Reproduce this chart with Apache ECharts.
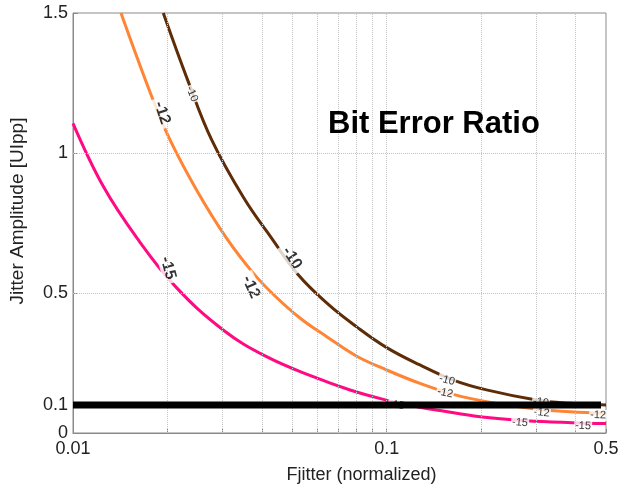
<!DOCTYPE html>
<html><head><meta charset="utf-8">
<script src="https://cdn.jsdelivr.net/npm/echarts@6/dist/echarts.min.js"></script>
<style>html,body{margin:0;padding:0;background:#fff}#c{width:620px;height:485px}</style>
</head><body><div id="c"></div>
<script>
// ---- data ----
const xTickLabels = [0.01, 0.1, 0.5];
const xMinorTicks = [0.02, 0.03, 0.04, 0.05, 0.06, 0.07, 0.08, 0.09, 0.2, 0.3, 0.4];
const xGridValues = [0.02, 0.03, 0.04, 0.05, 0.06, 0.07, 0.08, 0.09, 0.1, 0.2, 0.3, 0.4];
const yTickLabels = [0, 0.1, 0.5, 1, 1.5];
const yGridValues = [0.5, 1];

const ber10X = [0.0194, 0.0233, 0.0277, 0.035, 0.043, 0.0523, 0.065, 0.08, 0.1, 0.1276, 0.163, 0.208, 0.30, 0.384, 0.5];
const ber10Y = [1.5, 1.255, 1.046, 0.84, 0.695, 0.564, 0.46, 0.38, 0.305, 0.243, 0.189, 0.154, 0.118, 0.106, 0.1];

const ber12X = [0.01422, 0.018, 0.0204, 0.025, 0.0309, 0.0376, 0.0437, 0.053, 0.0644, 0.08, 0.1, 0.1276, 0.163, 0.208, 0.30, 0.384, 0.5];
const ber12Y = [1.5, 1.189, 1.046, 0.86, 0.695, 0.570, 0.493, 0.41, 0.344, 0.275, 0.225, 0.177, 0.138, 0.112, 0.085, 0.076, 0.070];

const ber15X = [0.01, 0.0125, 0.016, 0.0213, 0.0301, 0.0414, 0.0583, 0.0764, 0.0976, 0.1276, 0.148, 0.1984, 0.279, 0.39, 0.5];
const ber15Y = [1.106, 0.88, 0.696, 0.521, 0.368, 0.2725, 0.201, 0.1536, 0.120, 0.092, 0.080, 0.058, 0.044, 0.037, 0.034];

const thresholdY = 0.1;
const thresholdX = [0.01, 0.482];

// contour labels: x, y, text
const labelX = [0.02395, 0.0499, 0.1557, 0.310, 0.01922, 0.0369, 0.1535, 0.312, 0.4718, 0.02008, 0.1076, 0.266, 0.4225];
const labelY = [1.211, 0.625, 0.189, 0.11, 1.143, 0.521, 0.143, 0.0725, 0.064, 0.589, 0.10, 0.037, 0.025];
const labelText = ['-10', '-10', '-10', '-10', '-12', '-12', '-12', '-12', '-12', '-15', '-15', '-15', '-15'];

// ---- styles ----
const labelRotate = [-68, -57, -15, -8, -72, -66, -12, -5, -2, -75, -10, -5, -3];
const labelBig = [false, true, false, false, true, true, false, false, false, true, false, false, false];
const FONT = 'Liberation Sans, Arial, sans-serif';
const colBrown = '#5e2d08', colOrange = '#ff8433', colMagenta = '#ff0a82';
const frameCol = '#8a8a8a';

function zip(xs, ys) { return xs.map((x, i) => [x, ys[i]]); }
function fmt(v) { return String(parseFloat(Number(v).toPrecision(6))); }

const chart = echarts.init(document.getElementById('c'), null, {renderer: 'canvas'});

const curveSeries = (name, xs, ys, color) => ({
  name, type: 'line', data: zip(xs, ys), smooth: 0.4, symbol: 'none', z: 3,
  lineStyle: {color, width: 3}, silent: true
});

const labelData = labelX.map((x, i) => ({
  value: [x, labelY[i]],
  label: {
    show: true, position: 'inside', formatter: labelText[i], rotate: labelRotate[i],
    fontSize: labelBig[i] ? 16 : 11, fontWeight: labelBig[i] ? 'bold' : 'normal',
    fontFamily: FONT, color: '#000', backgroundColor: '#fff', padding: labelBig[i] ? [0, 4] : [0, 1]
  }
}));

chart.setOption({
  animation: false,
  grid: {left: 73, right: 14, top: 13, bottom: 52, show: true, borderColor: frameCol, borderWidth: 1,
         containLabel: false, outerBoundsMode: 'none'},
  xAxis: {
    type: 'log', logBase: 10, min: 0.01, max: 0.5,
    axisLine: {show: true, lineStyle: {color: frameCol, width: 1}},
    axisTick: {show: true, inside: true, length: 4, customValues: xMinorTicks.concat(xTickLabels), lineStyle: {color: frameCol}},
    axisLabel: {customValues: xTickLabels, formatter: fmt, fontSize: 18, color: '#222', fontFamily: FONT, margin: 7},
    splitLine: {show: false}, minorTick: {show: false}, minorSplitLine: {show: false},
    name: 'Fjitter (normalized)', nameLocation: 'middle', nameGap: 33,
    nameTextStyle: {fontSize: 18, color: '#222', fontFamily: FONT, padding: [0, 0, 0, 44]}
  },
  yAxis: {
    type: 'value', min: 0, max: 1.5,
    axisLine: {show: true, lineStyle: {color: frameCol, width: 1}},
    axisTick: {show: true, inside: true, length: 5, customValues: yTickLabels, lineStyle: {color: frameCol}},
    axisLabel: {customValues: yTickLabels, formatter: fmt, fontSize: 18, color: '#222', fontFamily: FONT, margin: 5},
    splitLine: {show: false},
    name: 'Jitter Amplitude [UIpp]', nameLocation: 'middle', nameGap: 46,
    nameTextStyle: {fontSize: 19, color: '#222', fontFamily: FONT, padding: [0, 0, 0, 24]}
  },
  graphic: [{
    type: 'text', left: 328, top: 109, z: 10,
    style: {text: 'Bit Error Ratio', font: 'bold 31px ' + FONT, fill: '#000'}
  }],
  series: [
    {
      type: 'line', data: [], z: 1, silent: true,
      markLine: {
        silent: true, symbol: ['none', 'none'], label: {show: false},
        lineStyle: {type: 'dotted', color: '#c4c4c4', width: 1},
        data: xGridValues.map(v => ({xAxis: v})).concat(yGridValues.map(v => ({yAxis: v})))
      }
    },
    curveSeries('-10', ber10X, ber10Y, colBrown),
    curveSeries('-12', ber12X, ber12Y, colOrange),
    curveSeries('-15', ber15X, ber15Y, colMagenta),
    {
      type: 'scatter', data: labelData, symbolSize: 1, z: 4, silent: true,
      itemStyle: {color: 'rgba(0,0,0,0)'}
    },
    {
      type: 'line', data: thresholdX.map(x => [x, thresholdY]), symbol: 'none', z: 5, silent: true,
      lineStyle: {color: '#000', width: 7}
    }
  ]
});
</script></body></html>
